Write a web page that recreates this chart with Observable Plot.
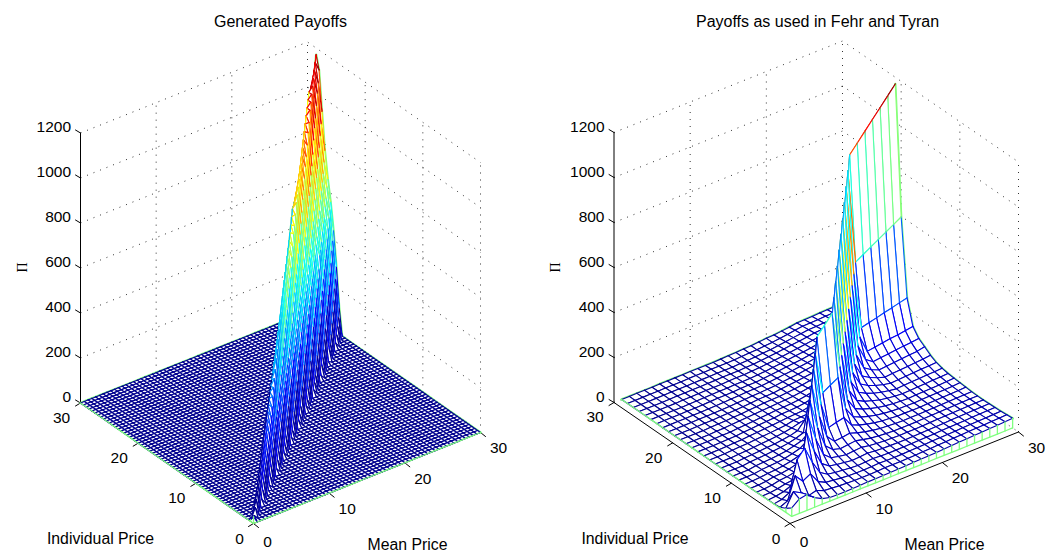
<!DOCTYPE html>
<html>
<head>
<meta charset="utf-8">
<script src="https://cdn.jsdelivr.net/npm/d3@7"></script>
<script src="https://cdn.jsdelivr.net/npm/@observablehq/plot@0.6"></script>
<style>html,body{margin:0;padding:0;background:#fff}svg{display:block}</style>
</head>
<body>
<div id="chart"></div>
<script>
// Tick labels
const zTicks = [0, 200, 400, 600, 800, 1000, 1200];
const floorTicks = [0, 10, 20, 30];
const titles = ["Generated Payoffs", "Payoffs as used in Fehr and Tyran"];
const xLabel = "Mean Price";
const yLabel = "Individual Price";
const zLabel = "Π";

// Left surface: grid step 0.5. One row per mean-price step: [first non-zero individual-price step, payoffs...]
const leftBands = [
[0,30,8],[1,19],[2,39],[3,58],[4,78],[5,97],[5,21,117],[6,46,136],[7,70,156],[8,88,175],
[8,8,105,190],[9,17,124,204],[10,42,143,222],[11,68,167,236],[12,96,191,248],[13,117,214,266],
[13,19,144,237,278],[14,43,159,262,288],[15,70,179,291,302],[16,96,196,315,311],[17,121,211,339,324],
[17,20,152,238,364,336],[18,39,172,257,395,343],[19,63,197,278,422,350],[20,94,220,304,449,360],[21,122,239,327,478,375],
[21,20,152,254,355,507,380],[22,37,179,274,379,526,384],[23,66,202,295,404,546,382],[24,90,226,311,435,565,396],[25,123,257,339,456,585,398],
[25,24,151,278,363,484,604,393],[26,37,175,293,381,524,624,387],[27,58,212,309,399,547,643,399],[28,93,239,331,431,577,663,398],[29,116,259,355,464,607,682,389],
[29,21,147,281,379,491,639,702,386],[30,36,180,317,404,519,671,721,382],[31,67,215,341,422,541,711,741,370],[32,91,236,357,441,570,730,760,380],[33,117,273,382,468,601,764,780,367],
[33,24,144,296,400,488,632,800,776,360],[34,41,180,328,418,508,655,819,778,344],[35,59,210,352,436,537,688,838,780,352],[36,86,249,378,463,583,721,858,781,335],[37,114,272,404,491,605,763,877,763,316],
[37,18,152,305,422,511,637,789,897,771,296],[38,46,183,330,440,532,660,825,916,770,302],[39,66,206,356,468,562,693,861,936,777,262],[40,86,239,382,478,583,726,889,955,764,268],[41,117,283,410,507,605,751,926,975,751,244],
[41,10,149,308,457,527,636,786,965,994,746,219],[42,51,193,345,466,558,669,811,994,1014,740,223],[43,62,217,372,486,579,703,847,1033,1033,723,207],[44,84,253,400,516,600,737,895,1053,1053,716,190],[45,118,279,429,536,633,761,933,1072,1072,697,172],
[45,22,153,317,459,546,655,797,961,1092,1048,655,175],[46,44,189,345,489,578,678,822,1000,1111,1056,634,156],[47,68,226,385,520,599,701,860,1040,1131,1040,622,147],[48,92,253,414,541,633,736,897,1070,1150,1024,598,127],[49,117,292,445,562,655,772,936,1111,1170,1018,585,105]
];

// Right surface: one row per mean price 1..30, payoffs for individual price 1..30
const rightRows = [
[38,18,5,2,1,1,0,0,0,0,0,0,0,0,0,0,0,0,0,0,0,0,0,0,0,0,0,0,0,0],
[64,78,20,8,4,2,1,0,0,0,0,0,0,0,0,0,0,0,0,0,0,0,0,0,0,0,0,0,0,0],
[70,60,117,25,11,6,4,3,2,1,0,0,0,0,0,0,0,0,0,0,0,0,0,0,0,0,0,0,0,0],
[43,34,80,156,24,14,11,9,7,6,5,4,3,2,2,1,1,1,0,0,0,0,0,0,0,0,0,0,0,0],
[25,43,99,195,27,18,14,11,9,8,7,6,5,4,4,3,2,2,2,1,1,1,1,1,0,0,0,0,0,0],
[16,29,51,119,234,33,21,16,13,11,9,8,7,6,5,4,3,2,2,2,1,1,1,1,1,1,1,1,1,1],
[15,26,34,60,139,273,38,25,19,15,12,11,10,9,8,7,6,5,4,3,3,2,2,2,1,1,1,1,1,1],
[15,23,30,39,68,159,312,44,28,22,17,14,12,11,10,9,8,7,6,5,4,3,3,3,2,2,2,1,1,1],
[16,21,26,33,44,77,179,351,49,32,25,19,16,14,13,12,11,9,8,6,5,4,4,4,3,3,2,2,2,1],
[17,20,23,29,37,49,85,199,390,55,35,27,21,18,16,14,13,12,10,9,7,6,5,4,4,3,3,2,2,2],
[18,19,22,26,32,41,54,94,219,429,60,39,30,24,19,17,15,14,13,11,9,8,6,5,4,3,3,2,2,2],
[18,19,21,23,28,35,44,59,102,239,468,210,66,33,26,21,19,17,15,14,12,10,8,7,6,5,4,3,3,2],
[19,20,22,25,30,38,48,63,111,259,507,228,71,35,28,23,20,18,17,15,13,11,9,8,6,5,4,3,3,2],
[20,22,24,27,33,41,52,68,119,278,546,246,76,38,30,25,22,20,18,16,14,12,10,8,7,5,4,3,3,3],
[21,22,23,25,29,35,44,56,73,128,298,585,263,82,41,32,26,23,21,19,18,15,13,11,9,7,6,5,4,4],
[22,22,23,24,27,31,37,47,59,78,136,318,624,281,87,44,34,28,25,22,21,19,16,14,11,9,7,6,5,5],
[24,23,23,24,26,29,33,40,50,63,83,145,338,663,298,93,46,36,30,27,24,22,20,17,15,12,10,8,7,7],
[25,24,24,24,25,27,30,35,42,53,67,88,153,358,702,316,98,49,39,32,28,25,23,21,18,15,13,11,8,8],
[26,25,25,25,25,26,28,32,37,44,56,70,93,162,378,741,333,104,52,41,33,30,27,24,22,19,16,13,11,11],
[27,26,26,26,26,27,28,30,34,39,47,59,74,98,170,398,780,351,109,55,43,35,31,28,26,23,20,17,14,14],
[29,28,28,27,27,27,28,29,31,35,41,49,61,78,102,179,418,819,369,115,57,45,37,33,29,27,25,21,18,15],
[30,29,29,28,28,28,28,29,31,33,37,43,52,64,82,107,187,438,858,386,120,60,47,39,34,31,28,26,22,19],
[32,31,30,30,29,29,29,29,30,32,34,39,45,54,67,85,112,196,457,897,404,126,63,49,40,36,32,30,27,23],
[33,32,31,31,30,30,30,30,30,31,33,36,40,47,56,70,89,117,204,477,936,421,131,66,51,42,37,34,31,28],
[35,34,33,32,31,31,31,31,32,33,35,37,42,49,59,73,93,122,213,497,975,439,137,68,54,44,39,35,32,29],
[36,35,34,33,32,32,32,32,33,34,36,39,44,51,61,76,96,127,221,517,1014,456,142,71,56,46,41,37,33,30],
[38,36,35,34,33,33,33,33,34,35,37,40,45,53,63,79,100,132,230,537,1053,474,147,74,58,47,42,38,35,32],
[39,38,36,35,34,34,34,34,35,36,38,42,47,55,66,82,104,136,238,557,1092,491,153,76,60,49,44,39,36,33],
[41,39,37,36,35,35,35,35,36,37,40,43,48,56,68,85,107,141,247,577,1131,509,158,79,62,51,45,41,37,34],
[43,41,38,37,36,35,35,36,38,40,42,45,50,58,72,92,111,146,255,597,1170,527,164,82,64,53,47,42,39,35]
];

const leftMeans = d3.range(0, 61).map(k => k / 2);
const rightMeans = d3.range(1, 31);

// Expand the banded left table into a full matrix [mean][individual]
const leftRows = leftBands.map(([start, ...vals]) =>
  leftMeans.map((_, j) => (j >= start && j - start < vals.length ? vals[j - start] : 0)));

const jet = Plot.scale({color: {
  type: "linear",
  domain: [0, 146, 439, 731, 1024, 1170],
  range: ["#00008f", "#0000ff", "#00ffff", "#ffff00", "#ff0000", "#800000"]
}});
const curtain = "#80ff80";
const zPx = 0.225;

const panels = [
  {L: [80, 402.5], F: [253, 523], R: [480, 432], means: leftMeans, rows: leftRows, title: [280, 21], pi: [22, 267],
   xl: [407, 544.5], yl: [100, 538], w: 1.15},
  {L: [613.5, 402], F: [789.5, 523], R: [1018, 431.5], means: rightMeans, rows: rightRows, title: [817, 21], pi: [555, 267],
   xl: [944, 544.5], yl: [634.5, 538], w: 1.1}
];

function projector(p) {
  const mx = (p.R[0] - p.F[0]) / 30, my = (p.R[1] - p.F[1]) / 30;
  const ix = (p.L[0] - p.F[0]) / 30, iy = (p.L[1] - p.F[1]) / 30;
  return (m, i, z = 0) => ({x: p.F[0] + m * mx + i * ix, y: p.F[1] + m * my + i * iy - z * zPx});
}

const marks = [];
panels.forEach((p, pi) => {
  const at = projector(p);
  // Dotted wall grid
  const grid = [];
  let id = 0;
  const gpath = pts => { id++; pts.forEach(q => grid.push({...q, id})); };
  for (const z of zTicks) gpath([at(0, 30, z), at(30, 30, z), at(30, 0, z)]);
  for (const t of floorTicks.slice(1)) {
    gpath([at(t, 30, 0), at(t, 30, 1200)]);
    if (t < 30) gpath([at(30, t, 0), at(30, t, 1200)]);
  }
  gpath([at(30, 0, 0), at(30, 0, 1200)]);
  marks.push(Plot.line(grid, {x: "x", y: "y", z: "id", stroke: "#333", strokeWidth: 1, strokeDasharray: "1 6", strokeLinecap: "butt"}));

  // Solid axes and ticks
  const axes = [];
  let aid = 0;
  const apath = pts => { aid++; pts.forEach(q => axes.push({...q, id: aid})); };
  apath([at(0, 30, 1200), at(0, 30, 0), at(0, 0, 0), at(30, 0, 0)]);
  const shift = (q, dx, dy) => ({x: q.x + dx, y: q.y + dy});
  for (const z of zTicks) apath([at(0, 30, z), shift(at(0, 30, z), -5, -3)]);
  for (const t of floorTicks) {
    apath([at(0, t, 0), shift(at(0, t, 0), -5, 3)]);
    apath([at(t, 0, 0), shift(at(t, 0, 0), 5, 4)]);
  }
  marks.push(Plot.line(axes, {x: "x", y: "y", z: "id", stroke: "#000", strokeWidth: 1}));

  // Surface
  const M = p.means, rows = p.rows, n = M.length, last = n - 1;
  const zAt = (a, b) => rows[a][b];
  const V = (a, b) => at(M[a], M[b], zAt(a, b));
  const B = (a, b) => at(M[a], M[b], 0);

  // far boundary, beneath the surface
  const back = [];
  for (let a = 0; a < n; a++) back.push({...V(a, last), id: 0});
  for (let b = last; b >= 0; b--) back.push({...V(last, b), id: 0});
  marks.push(Plot.line(back, {x: "x", y: "y", z: "id", stroke: curtain, strokeWidth: 2.4}));

  const verts = [];
  let pid = 0;
  const add = (pts, fill, stroke) => { pid++; pts.forEach(q => verts.push({x: q.x, y: q.y, p: pid, fill, stroke})); };
  for (let a = last - 1; a >= 0; a--) {
    for (let b = last - 1; b >= 0; b--) {
      const v00 = V(a, b), v10 = V(a + 1, b), v11 = V(a + 1, b + 1), v01 = V(a, b + 1);
      add([v00, v10, v11, v01], "white", "none");
      add([v10, v11], "none", jet.apply(zAt(a + 1, b)));
      add([v01, v11], "none", jet.apply(zAt(a, b + 1)));
      add([v10, v00, v01], "none", jet.apply(zAt(a, b)));
    }
  }
  marks.push(Plot.line(verts, {x: "x", y: "y", z: "p", fill: "fill", stroke: "stroke", strokeWidth: p.w, strokeLinejoin: "miter"}));

  // Near curtain: bottom edges and drops
  const cur = [];
  let cid = 0;
  const cpath = pts => { cid++; pts.forEach(q => cur.push({...q, id: cid})); };
  cpath(d3.range(last, -1, -1).map(b => B(0, b)).concat(d3.range(1, n).map(a => B(a, 0))));
  for (let b = 0; b < n; b++) if (zAt(0, b) > 0) cpath([B(0, b), V(0, b)]);
  for (let a = 1; a < n; a++) if (zAt(a, 0) > 0) cpath([B(a, 0), V(a, 0)]);
  marks.push(Plot.line(cur, {x: "x", y: "y", z: "id", stroke: curtain, strokeWidth: 1.3}));

  // Text
  const font = {fontFamily: "Liberation Sans, Arial, sans-serif", fill: "#000"};
  const zLabels = zTicks.map(z => { const q = at(0, 30, z); return {x: q.x - 9.5, y: q.y - 5.5, t: String(z)}; });
  marks.push(Plot.text(zLabels, {x: "x", y: "y", text: "t", textAnchor: "end", fontSize: 15.5, ...font}));
  const floorLabels = floorTicks.flatMap(t => {
    const a = at(0, t), b = at(t, 0);
    return [
      t === 0 ? {x: a.x - 14, y: a.y + 16, t: "0"} : {x: a.x - 19, y: a.y + 15, t: String(t)},
      t === 0 ? {x: b.x + 14, y: b.y + 18.5, t: "0"} : {x: b.x + 18, y: b.y + 16, t: String(t)}
    ];
  });
  marks.push(Plot.text(floorLabels, {x: "x", y: "y", text: "t", fontSize: 15.5, ...font}));
  marks.push(Plot.text([{x: p.title[0], y: p.title[1], t: titles[pi]}], {x: "x", y: "y", text: "t", fontSize: 16, ...font}));
  marks.push(Plot.text([{x: p.xl[0], y: p.xl[1], t: xLabel}, {x: p.yl[0], y: p.yl[1], t: yLabel}], {x: "x", y: "y", text: "t", fontSize: 15.8, ...font}));
  marks.push(Plot.text([{x: p.pi[0], y: p.pi[1], t: zLabel}], {x: "x", y: "y", text: "t", rotate: -90, fontSize: 14, fontFamily: "Liberation Serif, serif", fill: "#000"}));
});

const plot = Plot.plot({
  width: 1048, height: 556, margin: 0,
  style: {background: "#fff"},
  x: {domain: [0, 1048], range: [0, 1048], axis: null},
  y: {domain: [0, 556], range: [0, 556], axis: null},
  marks
});
document.getElementById("chart").append(plot);
</script>
</body>
</html>
